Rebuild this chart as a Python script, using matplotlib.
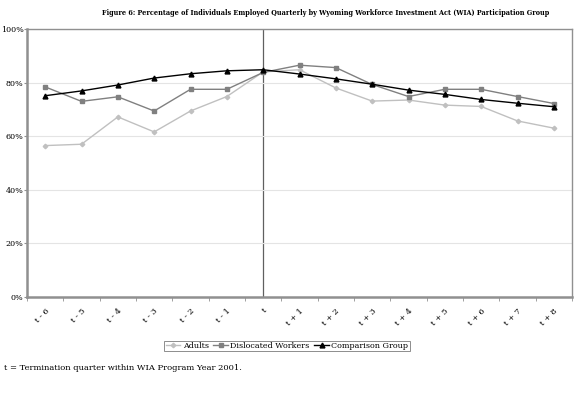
import matplotlib
matplotlib.use("Agg")
import matplotlib.pyplot as plt
from matplotlib.ticker import FixedLocator, PercentFormatter

categories = ["t - 6", "t - 5", "t - 4", "t - 3", "t - 2", "t - 1", "t",
              "t + 1", "t + 2", "t + 3", "t + 4", "t + 5", "t + 6", "t + 7", "t + 8"]
adults = [56.5, 57.0, 67.2, 61.6, 69.4, 74.8, 84.0, 84.8, 78.0, 73.1, 73.5, 71.6, 71.1, 65.7, 63.0]
dislocated = [78.4, 73.0, 74.7, 69.4, 77.5, 77.5, 83.8, 86.5, 85.6, 79.3, 74.8, 77.5, 77.5, 74.8, 72.2]
comparison = [75.1, 76.9, 79.1, 81.7, 83.3, 84.4, 84.8, 83.2, 81.4, 79.4, 77.2, 75.6, 73.7, 72.3, 71.0]
yticks = [0, 20, 40, 60, 80, 100]

serif = ["DejaVu Serif"]
fig = plt.figure(figsize=(5.77, 3.93), dpi=100)
ax = fig.add_axes([27/577, 1-297/393, (572-27)/577, (297-29)/393])
x = list(range(len(categories)))

ax.plot(x, adults, color="#c0c0c0", marker="D", markersize=2.3, lw=1.0, label="Adults")
ax.plot(x, dislocated, color="#808080", marker="s", markersize=3.2, lw=1.0, label="Dislocated Workers")
ax.plot(x, comparison, color="black", marker="^", markersize=3.5, lw=1.0, label="Comparison Group")
ax.axvline(categories.index("t"), color="#606060", lw=0.9, zorder=0)

ax.set_xlim(-0.5, len(categories) - 0.5)
ax.set_ylim(0, 100)
ax.yaxis.set_major_locator(FixedLocator(yticks))
ax.yaxis.set_major_formatter(PercentFormatter(decimals=0))
ax.grid(axis="y", color="#e4e4e4", lw=0.8)
ax.set_axisbelow(True)
ax.set_xticks(x)
ax.set_xticklabels(categories, rotation=45, ha="right", rotation_mode="anchor",
                   fontsize=6, family=serif)
ax.tick_params(axis="x", length=0, pad=7)
ax.set_xticks([i + 0.5 for i in range(-1, len(categories))], minor=True)
ax.tick_params(axis="x", which="minor", length=3, color="#909090")
ax.tick_params(axis="y", length=2, color="#909090", labelsize=5.8, pad=0.5)
for lab in ax.get_yticklabels():
    lab.set_family(serif)
for s in ["left", "bottom"]:
    ax.spines[s].set_color("#909090")
    ax.spines[s].set_linewidth(1.8)
for s in ["top", "right"]:
    ax.spines[s].set_color("#909090")
    ax.spines[s].set_linewidth(1.0)

fig.text(325.5/577, 1-13/393, "Figure 6: Percentage of Individuals Employed Quarterly by Wyoming Workforce Investment Act (WIA) Participation Group",
         ha="center", va="center", fontsize=4.7, fontweight="bold", family=serif)
fig.text(4/577, 1-368/393, "t = Termination quarter within WIA Program Year 2001.",
         ha="left", va="center", fontsize=6, family=serif)

leg = fig.legend(loc="center", bbox_to_anchor=(287/577, 1-346/393), ncol=3,
                 prop={"family": serif, "size": 5.8}, frameon=True, fancybox=False,
                 edgecolor="#707070", borderpad=0.15, handlelength=1.8,
                 columnspacing=0.6, handletextpad=0.3)
leg.get_frame().set_linewidth(0.7)

fig.savefig("out.png", dpi=100)
